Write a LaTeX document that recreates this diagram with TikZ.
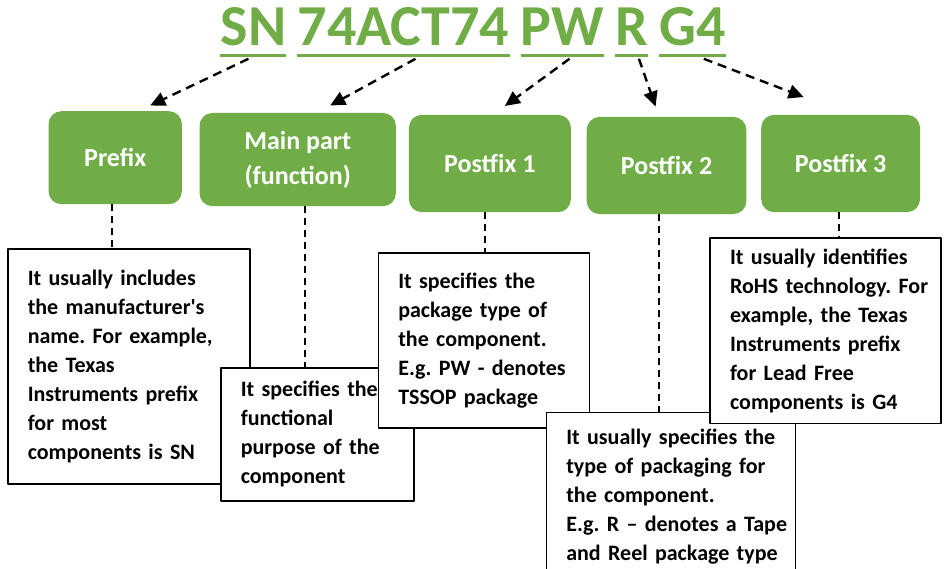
\documentclass[tikz,border=0pt]{standalone}
\usepackage{fontspec}
\setmainfont{Carlito}
\usetikzlibrary{positioning,arrows.meta}
\definecolor{partgreen}{HTML}{70AD47}
\frenchspacing

\begin{document}
\begin{tikzpicture}[x=1pt, y=-1pt, line join=round,
  >={Triangle[length=15pt,width=14pt]},
  word/.style={inner sep=0pt, text=partgreen, font=\fontsize{58}{60}\selectfont\bfseries},
  uline/.style={partgreen, line width=3.5pt},
  part/.style={fill=partgreen, rounded corners=13pt, anchor=north west, inner sep=0pt,
    text=white, align=center, font=\fontsize{26}{35}\selectfont\bfseries},
  note/.style={draw, fill=white, line width=1.6pt, anchor=north west, align=left,
    inner sep=0pt, execute at begin node={\leftskip=20pt\relax},
    font=\fontsize{22}{29}\selectfont\bfseries},
  link/.style={dash pattern=on 9pt off 6pt, line width=2.4pt, ->},
  lead/.style={dash pattern=on 7pt off 5pt, line width=2pt}]
  \useasboundingbox (0,0) rectangle (944,569);

  % Part number
  \node[word, anchor=base west] (sn) at (220.4,45.8) {SN};
  \node[word, right=11pt of sn.base east, anchor=base west] (core) {74ACT74};
  \node[word, right=11pt of core.base east, anchor=base west] (pw) {PW};
  \node[word, right=11pt of pw.base east, anchor=base west] (reel) {R};
  \node[word, right=11pt of reel.base east, anchor=base west] (gfour) {G4};

  \draw[uline] ([yshift=-9.5pt]sn.base west) -- ([yshift=-9.5pt]sn.base east);
  \draw[uline] ([yshift=-9.5pt]core.base west) -- ([yshift=-9.5pt]core.base east);
  \draw[uline] ([yshift=-9.5pt]pw.base west) -- ([yshift=-9.5pt]pw.base east);
  \draw[uline] ([yshift=-9.5pt]reel.base west) -- ([yshift=-9.5pt]reel.base east);
  \draw[uline] ([yshift=-9.5pt]gfour.base west) -- ([yshift=-9.5pt]gfour.base east);

  % Green boxes
  \node[part, minimum width=133.4pt, minimum height=93pt] (prefix) at (48.3,111) {Prefix};
  \node[part, minimum width=196.4pt, minimum height=93.3pt] (main) at (199.3,112.7) {Main part\\(function)};
  \node[part, minimum width=162pt, minimum height=97.4pt] (pfone) at (408.7,114.6) {Postfix 1};
  \node[part, minimum width=159.7pt, minimum height=97.2pt] (pftwo) at (586.5,116.7) {Postfix 2};
  \node[part, minimum width=158.8pt, minimum height=97.4pt] (pfthree) at (761,114.6) {Postfix 3};

  % Arrows from the part number
  \draw[link] ([xshift=-5pt,yshift=-13pt]sn.base) -- ([xshift=35pt,yshift=5.5pt]prefix.north);
  \draw[link] ([xshift=12pt,yshift=-13pt]core.base) -- ([xshift=32.5pt,yshift=7.2pt]main.north);
  \draw[link] ([xshift=7pt,yshift=-13pt]pw.base) -- ([xshift=15pt,yshift=8.6pt]pfone.north);
  \draw[link] ([xshift=7pt,yshift=-13pt]reel.base) -- ([xshift=-11pt,yshift=10.2pt]pftwo.north);
  \draw[link] ([xshift=11pt,yshift=-13pt]gfour.base) -- ([xshift=-37pt,yshift=17.6pt]pfthree.north);

  % Notes
  \node[note, text width=242.3pt, minimum height=235pt] (nprefix) at (7,248.3)
    {It usually includes\\the manufacturer\textquotesingle s\\name. For example,\\the Texas\\Instruments prefix\\for most\\components is SN};
  \node[note, text width=193.3pt, minimum height=133pt] (nmain) at (220,367)
    {It specifies the\\functional\\purpose of the\\component};
  \node[note, text width=211pt, minimum height=175pt] (npfone) at (377.5,252)
    {It specifies the\\package type of\\the component.\\E.g. PW - denotes\\TSSOP package};
  \node[note, text width=249pt, minimum height=168pt] (npftwo) at (545.5,411.7)
    {It usually specifies the\\type of packaging for\\the component.\\E.g. R – denotes a Tape\\and Reel package type};
  \node[note, text width=230.7pt, minimum height=185.4pt] (npfthree) at (709.3,237.3)
    {It usually identifies\\RoHS technology. For\\example, the Texas\\Instruments prefix\\for Lead Free\\components is G4};

  % Leads from boxes to notes
  \draw[lead] ([xshift=-3pt]prefix.south) -- ([xshift=-3pt]prefix.south |- nprefix.north);
  \draw[lead] ([xshift=7.5pt]main.south) -- ([xshift=7.5pt]main.south |- nmain.north);
  \draw[lead] ([xshift=-5pt]pfone.south) -- ([xshift=-5pt]pfone.south |- npfone.north);
  \draw[lead] ([xshift=-7.5pt]pftwo.south) -- ([xshift=-7.5pt]pftwo.south |- npftwo.north);
  \draw[lead] ([xshift=-2pt]pfthree.south) -- ([xshift=-2pt]pfthree.south |- npfthree.north);
\end{tikzpicture}
\end{document}
